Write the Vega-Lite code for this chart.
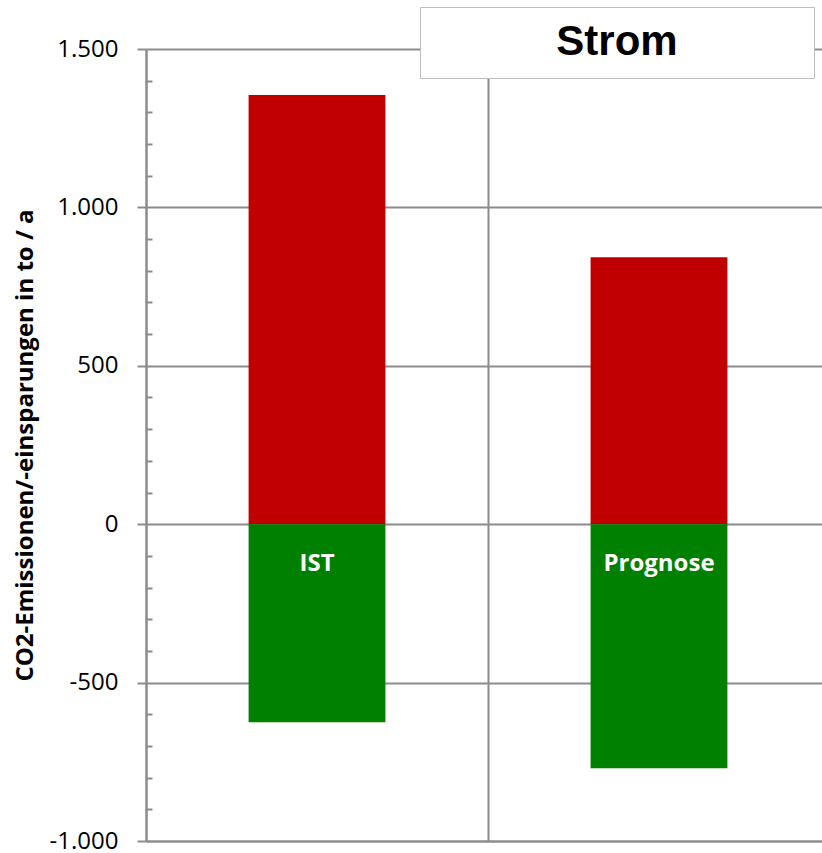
{
  "$schema": "https://vega.github.io/schema/vega-lite/v6.json",
  "width": 676,
  "height": 792,
  "autosize": "none",
  "padding": {"left": 146, "top": 49, "right": 0, "bottom": 12},
  "background": "white",
  "config": {"view": {"stroke": null}, "font": "Open Sans"},
  "data": {
    "values": [
      {"Szenario": "IST", "Typ": "Emissionen", "Wert": 1355},
      {"Szenario": "IST", "Typ": "Einsparungen", "Wert": -625},
      {"Szenario": "Prognose", "Typ": "Emissionen", "Wert": 843},
      {"Szenario": "Prognose", "Typ": "Einsparungen", "Wert": -770}
    ]
  },
  "layer": [
    {
      "mark": {"type": "bar", "width": {"band": 0.4}},
      "encoding": {
        "x": {
          "field": "Szenario",
          "type": "nominal",
          "sort": ["IST", "Prognose"],
          "scale": {"domain": ["IST", "Prognose"], "range": [0, 684], "paddingInner": 0, "paddingOuter": 0},
          "axis": {
            "title": null,
            "labels": false,
            "ticks": false,
            "domain": true,
            "domainColor": "#8c8c8c",
            "domainWidth": 2,
            "grid": true,
            "gridColor": "#8c8c8c",
            "gridWidth": 2,
            "tickBand": "extent"
          }
        },
        "y": {
          "field": "Wert",
          "type": "quantitative",
          "stack": null,
          "scale": {"domain": [-1000, 1500], "nice": false, "zero": false},
          "axis": {
            "values": [-1000, -500, 0, 500, 1000, 1500],
            "title": "CO2-Emissionen/-einsparungen  in to / a",
            "titleFont": "Open Sans",
            "titleFontSize": 24,
            "titleFontWeight": "bold",
            "titleColor": "black",
            "titlePadding": 12,
            "labelFont": "Open Sans",
            "labelFontSize": 24,
            "labelColor": "black",
            "labelPadding": 19,
            "labelExpr": "replace(replace(format(datum.value, ','), ',', '.'), '\u2212', '-')",
            "tickSize": 9,
            "tickColor": "#8c8c8c",
            "tickWidth": 2,
            "domainColor": "#8c8c8c",
            "domainWidth": 2,
            "grid": true,
            "gridColor": "#8c8c8c",
            "gridWidth": 2
          }
        },
        "color": {
          "field": "Typ",
          "type": "nominal",
          "scale": {"domain": ["Emissionen", "Einsparungen"], "range": ["#C00000", "#008000"]},
          "legend": {
            "title": "Strom",
            "orient": "none",
            "legendX": 274,
            "legendY": -42,
            "direction": "horizontal",
            "titleFont": "Liberation Sans",
            "titleFontSize": 42,
            "titleFontWeight": "bold",
            "titleColor": "black",
            "titleAnchor": "middle",
            "titlePadding": -4,
            "titleLimit": 1000,
            "fillColor": "white",
            "strokeColor": "#bdbdbd",
            "padding": 15,
            "symbolSize": 0,
            "symbolOpacity": 0,
            "symbolStrokeWidth": 0,
            "labelExpr": "''",
            "labelFontSize": 1,
            "labelOffset": 4,
            "columnPadding": 354
          }
        }
      }
    },
    {
      "transform": [{"filter": "datum.Typ == 'Emissionen'"}],
      "mark": {"type": "text", "dy": 47, "baseline": "alphabetic", "color": "white", "font": "Open Sans", "fontWeight": "bold", "fontSize": 24},
      "encoding": {
        "x": {"field": "Szenario", "type": "nominal", "sort": ["IST", "Prognose"]},
        "y": {
          "datum": 0,
          "type": "quantitative",
          "axis": {
            "orient": "left",
            "values": [-900, -800, -700, -600, -400, -300, -200, -100, 100, 200, 300, 400, 600, 700, 800, 900, 1100, 1200, 1300, 1400],
            "tickSize": -6,
            "tickColor": "#8c8c8c",
            "tickWidth": 2,
            "labels": false,
            "domain": false,
            "grid": false,
            "title": null
          }
        },
        "text": {"field": "Szenario"}
      }
    }
  ],
  "resolve": {"axis": {"y": "independent"}}
}
